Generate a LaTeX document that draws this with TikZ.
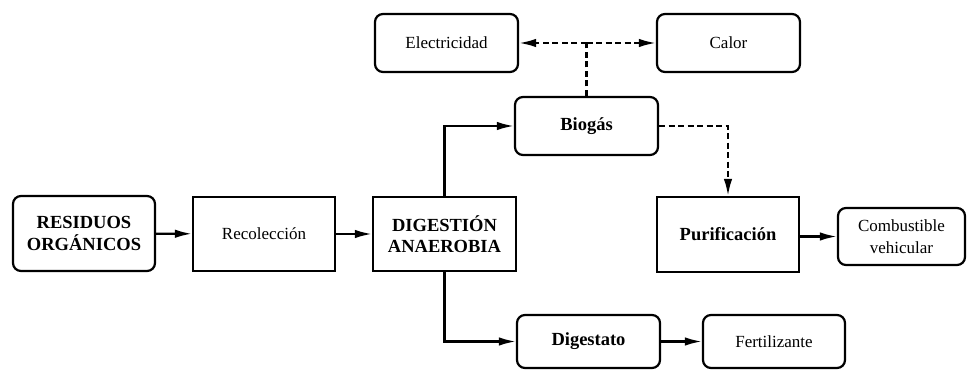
\documentclass[tikz,border=0pt]{standalone}
\usepackage{fontspec}
\setmainfont{Liberation Serif}
\usetikzlibrary{arrows.meta}
\tikzset{
  box/.style={draw, line width=2.2pt, minimum width=142pt, minimum height=74pt,
    align=center, inner sep=2pt, font=\fontsize{17}{21.5}\selectfont},
  rbox/.style={box, rounded corners=8pt},
  bf/.style={font=\fontsize{18.5}{21.5}\selectfont\bfseries},
  tip/.style={-{Latex[length=17pt,width=8.5pt]}},
  flow/.style={line width=2.2pt, tip},
  dflow/.style={line width=2.2pt, dash pattern=on 6pt off 3.5pt, tip},
  dlink/.style={line width=2.2pt, dash pattern=on 6pt off 3.5pt}
}
\begin{document}
\begin{tikzpicture}[x=1pt,y=-1pt]
\useasboundingbox (0,0) rectangle (967,371);

% main row
\node[rbox, bf, minimum height=75pt] (res) at (84,233.5) {RESIDUOS\\ORGÁNICOS};
\node[box] (rec) at (264,234) {Recolección};
\node[box, bf, minimum width=143pt] (dig) at (444.5,234) {DIGESTIÓN\\ANAEROBIA};
\node[box, bf, minimum height=75pt] (pur) at (728,234.5) {Purificación};
\node[rbox, minimum width=127pt, minimum height=57pt] (comb) at (901.5,236.5) {Combustible\\vehicular};

% upper branch
\node[rbox, minimum width=143pt, minimum height=58pt] (elec) at (446.5,43) {Electricidad};
\node[rbox, minimum width=143pt, minimum height=58pt] (cal) at (728.5,43) {Calor};
\node[rbox, bf, minimum width=143pt, minimum height=58pt] (bio) at (586.5,126) {Biogás};

% lower branch
\node[rbox, bf, minimum width=143pt, minimum height=53pt] (dgt) at (588.5,341.5) {Digestato};
\node[rbox, minimum height=53pt] (fer) at (774,341.5) {Fertilizante};

\coordinate (split) at (bio.north |- elec.east);

% connectors
\draw[flow] (res) -- (rec);
\draw[flow] (rec) -- (dig);
\draw[flow] (dig.north) |- (bio.west);
\draw[flow] (dig.south) |- (dgt.west);
\draw[flow] (dgt) -- (fer);
\draw[flow] (pur.east |- comb.west) -- (comb.west);
\draw[dflow] (bio.east) -| (pur.north);
\draw[dlink] (bio.north) -- (split);
\draw[dflow] (split) -- (elec.east);
\draw[dflow] (split) -- (cal.west);
\end{tikzpicture}
\end{document}
